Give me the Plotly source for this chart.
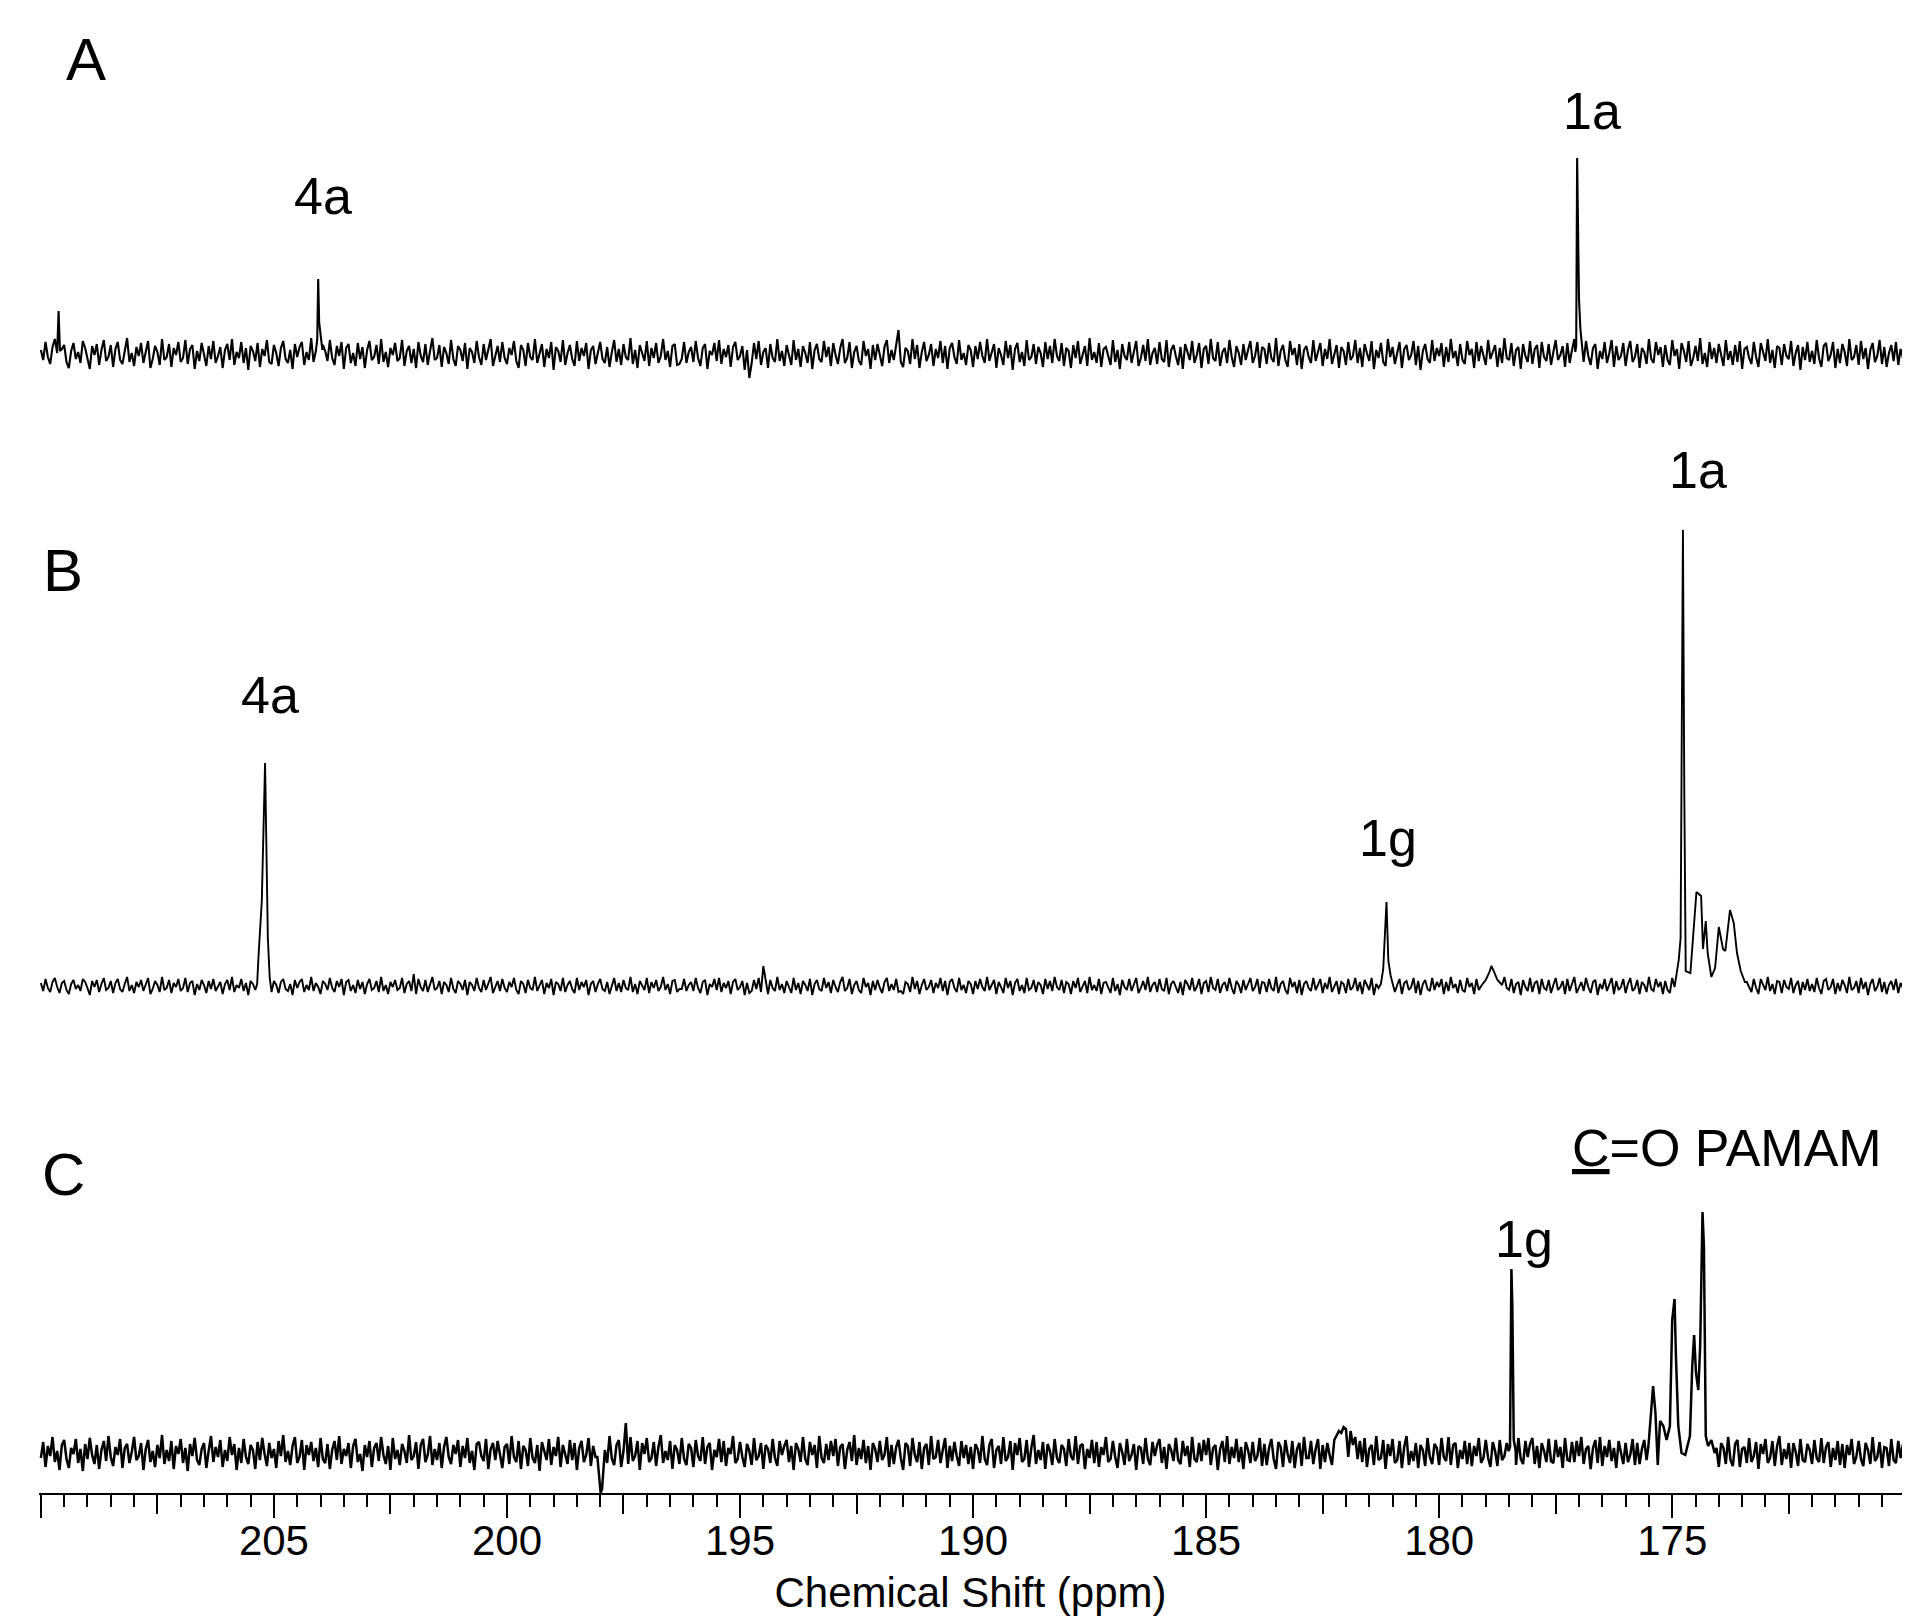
import plotly.graph_objects as go

FONT = "Liberation Sans, Arial, Helvetica, sans-serif"

# ---------------- data ----------------
# baseline of each spectrum, sampled every 0.05 ppm from 210 ppm (intensity in px-like units)
ppm_start = 210.0
ppm_step = 0.05

noise_A = [
    4, -6, 12, -3, -10, 7, 15, -2, -12, 5, 9, -8, -14, 3, 11, -5, 2, -9, 13, 6, -4, -15, 8, -1, 10, -11, 4, 14, -7, -3, 9, -13, 5, 12, -6, -10, 3, 16, -8, 1,
    -12, 7, -2, 11, -9, 4, 13, -14, -5, 8, 2, -11, 15, -6, -3, 10, -13, 6, -1, 12, -8, -4, 14, -10, 5, 9, -15, 3, -7, 11, 1, -12, 8, -5, 13, -9, -2, 7, -14, 4,
    10, -6, 15, -11, 2, -4, 12, -9, 6, -16, 8, 3, -7, 11, -13, 5, -2, 14, -8, -10, 9, 1, -12, 6, 13, -5, -9, 4, -15, 10, -3, 7, 12, -11, 2, -6, 16, -8, 5, -1,
    -13, 9, 3, -7, 14, -4, -11, 8, -2, 12, -15, 6, 10, -9, 1, -12, 11, -5, 7, -14, 4, 13, -6, -3, 9, -10, 15, -8, 2, -13, 6, -1, 11, -7, -4, 14, -12, 3, 8, -9,
    5, -14, 12, -2, -8, 10, -11, 3, 16, -6, -4, 9, -13, 7, 1, -10, 14, -5, -12, 8, 4, -7, 11, -15, 6, 2, -9, 13, -3, -11, 10, -6, 5, 15, -12, -2, 8, -8, 12, -4,
    -10, 6, -1, 13, -7, -14, 9, 4, -12, 11, -3, -6, 15, -9, 2, 10, -13, 5, -4, 12, -16, 7, 3, -8, 14, -11, 1, 9, -5, -12, 13, -7, 6, -2, 11, -15, 4, 8, -10, 3,
    12, -5, -9, 7, -13, 2, 14, -8, 5, -11, 10, -3, -6, 16, -10, 4, -14, 9, 1, -7, 13, -12, 6, -4, 11, -9, -2, 15, -6, 3, -13, 8, 10, -11, -10, -5, 12, -9, 2, 7,
    -8, 13, -4, -12, 6, 10, -15, 3, -1, 11, -7, 14, -10, 5, -3, 9, -13, 7, 12, -6, -2, 8, -16, 4, -24, -9, 11, -5, 13, -11, 2, 6, -14, 10, -4, -8, 15, -7, 3, -12,
    9, -2, -11, 14, -6, 5, -13, 8, 1, -9, 12, -15, 4, 10, -5, -8, 13, -3, 7, -12, 11, -1, -10, 6, 15, -9, -4, 12, -14, 2, 8, -7, -11, 13, -2, 5, -15, 9, -6, 10,
    -3, -12, 7, 14, -9, 4, -6, 11, 24, -8, -13, 6, 3, -10, 15, -5, 9, -14, 2, 12, -7, -1, 10, -12, 5, -4, 13, -9, 8, -15, 6, 11, -3, -10, 14, -6, 1, -11, 9, 4,
    -13, 8, -5, 12, -2, -9, 15, -7, 3, 10, -14, 6, -1, -11, 13, -4, 9, -16, 5, 11, -8, 2, -12, 14, -6, -3, 10, -10, 7, 1, -13, 12, -5, 8, -9, 15, -2, -7, 11, -12,
    6, 3, -14, 9, -4, 13, -10, -1, 8, -12, 16, -6, 2, -9, 11, -13, 5, 7, -3, -11, 14, -8, 4, -15, 10, -2, -6, 12, -9, 3, 13, -12, -4, 9, -7, 15, -11, 1, 6, -10,
    12, -5, -8, 14, -13, 4, 9, -2, -11, 7, -15, 10, 3, -6, 13, -9, -1, 11, -14, 5, 8, -10, 15, -4, -7, 12, -12, 2, 6, -9, 14, -3, -13, 8, 1, -11, 10, -6, 4, 13,
    -9, -2, 12, -14, 7, 5, -10, 11, -4, -8, 16, -12, 3, 9, -6, -13, 13, -1, 6, -11, 10, -15, 4, 8, -3, -9, 14, -7, 2, 11, -12, 5, -5, 15, -10, -1, 9, -14, 7, 3,
    -11, 12, -6, -2, 14, -9, 6, -13, 10, 1, -7, 13, -15, 4, -4, 11, -8, -12, 15, -3, 7, -10, 2, 12, -14, 5, 9, -6, -1, 13, -11, 8, -16, 3, 10, -5, -9, 14, -7, 6,
    -2, 11, -13, 7, -8, 15, -4, 3, -12, 10, -6, -10, 13, -1, 5, -14, 12, -7, 8, -3, -11, 14, -5, 2, 9, -13, 6, -9, 16, -4, -6, 11, -12, 4, 7, -15, 10, -2, -8, 13,
    -10, 5, 9, -14, 12, -3, -7, 10, -11, 2, 14, -6, -1, 8, -13, 11, -9, 4, 15, -12, -4, 7, -8, 13, -2, -11, 6, 10, -15, 3, -5, 12, -9, 1, 14, -13, 8, -6, -2, 11,
    -12, 4, 13, -8, -3, 10, -14, 6, 2, -10, 15, -5, -9, 12, -1, 7, -13, 9, -6, -11, 14, -2, 5, -15, 11, 3, -8, 13, -12, -4, 8, -7, 16, -10, 1, -13, 12, -5, 6, -9,
    10, -1, -12, 14, -6, 3, -11, 9, -8, 13, -15, 5, 7, -4, -10, 12, -3, -13, 11, 2, -7, 15, -9, 4, -14, 8, 6, -11, 10, -2, -5, 13, -12, 1, 9, -16, 7, -6, 12, -8,
    3, -10, 14, -4, -13, 8, 11, -7, -1, 12, -14, 5, -9, 10, 2, -12, 15, -6, -3, 9, -11, 13, -5, 6, -15, 4, 11, -8, -2, 14, -10, 7, -13, 1, 9, -7, 12, -11, 5, -4,
    6,
]

noise_B = [
    3, -5, 7, -2, -6, 4, 8, -1, -7, 3, 5, -4, -8, 2, 6, -3, 1, -5, 7, 4, -2, -9, 5, -1, 6, -6, 2, 8, -4, -2, 5, -7, 3, 7, -3, -6, 2, 9, -5, 1,
    -7, 4, -1, 6, -5, 2, 8, -8, -3, 5, 1, -6, 9, -4, -2, 6, -7, 3, -1, 7, -5, -2, 8, -6, 3, 5, -9, 2, -4, 6, 1, -7, 5, -3, 7, -5, -1, 4, -8, 2,
    6, -4, 9, -6, 1, -2, 7, -5, 3, -9, 5, 2, -4, 6, -8, 3, -1, 8, -5, -6, 5, 1, -7, 4, 7, -3, -5, 2, -9, 6, -2, 4, 7, -6, 1, -4, 9, -5, 3, -1,
    -8, 5, 2, -4, 8, -2, -6, 5, -1, 7, -9, 4, 6, -5, 1, -7, 6, -3, 4, -8, 2, 7, -4, -2, 5, -6, 9, -5, 1, -8, 4, -1, 6, -4, -2, 8, -7, 2, 5, -5,
    12, -8, 7, -1, -5, 6, -6, 2, 9, -4, -2, 5, -8, 4, 1, -6, 8, -3, -7, 5, 2, -4, 6, -9, 4, 1, -5, 8, -2, -6, 6, -4, 3, 9, -7, -1, 5, -5, 7, -2,
    -6, 4, -1, 8, -4, -8, 5, 2, -7, 6, -2, -4, 9, -5, 1, 6, -8, 3, -2, 7, -9, 4, 2, -5, 8, -6, 1, 5, -3, -7, 8, -4, 4, -1, 6, -9, 2, 5, -6, 2,
    7, -3, -5, 4, -8, 1, 8, -5, 3, -6, 6, -2, -4, 9, -6, 2, -8, 5, 1, -4, 8, -7, 4, -2, 6, -5, -1, 9, -4, 2, -8, 5, 6, -6, -3, -3, 7, -5, 1, 4,
    -5, 8, -2, -7, 4, 6, -9, 2, -1, 7, -4, 8, -6, 3, -2, 5, -8, 4, 7, -4, -1, 5, -9, 3, -7, -5, 6, -3, 8, -6, 20, 4, -8, 6, -2, -5, 9, -4, 2, -7,
    5, -1, -7, 8, -4, 3, -8, 5, 1, -5, 7, -9, 2, 6, -3, -5, 8, -2, 4, -7, 6, -1, -6, 4, 9, -5, -2, 7, -8, 1, 5, -4, -7, 8, -1, 3, -9, 5, -4, 6,
    -2, -7, 4, 8, -5, 2, -4, 7, -6, -5, -8, 4, 2, -6, 9, -3, 5, -8, 1, 7, -4, -1, 6, -7, 3, -2, 8, -5, 5, -9, 4, 7, -2, -6, 8, -4, 1, -7, 5, 2,
    -8, 5, -3, 7, -1, -5, 9, -4, 2, 6, -8, 4, -1, -7, 8, -2, 5, -9, 3, 7, -5, 1, -7, 8, -4, -2, 6, -6, 4, 1, -8, 7, -3, 5, -5, 9, -1, -4, 6, -7,
    4, 2, -8, 5, -2, 8, -6, -1, 5, -7, 9, -4, 1, -5, 7, -8, 3, 4, -2, -7, 8, -5, 2, -9, 6, -1, -4, 7, -5, 2, 8, -7, -2, 5, -4, 9, -6, 1, 4, -6,
    7, -3, -5, 8, -8, 2, 5, -1, -7, 4, -9, 6, 2, -4, 8, -5, -1, 7, -8, 3, 5, -6, 9, -2, -4, 7, -7, 1, 4, -5, 8, -2, -8, 5, 1, -7, 6, -4, 2, 8,
    -5, -1, 7, -8, 4, 3, -6, 7, -2, -5, 9, -7, 2, 5, -4, -8, 8, -1, 4, -7, 6, -9, 2, 5, -2, -5, 8, -4, 1, 7, -7, 3, -3, 9, -6, -1, 5, -8, 4, 2,
    -7, 7, -4, -1, 8, -5, 4, -8, 6, 1, -4, 8, -9, 2, -2, 7, -5, -7, 9, -2, 4, -6, 1, 7, -8, 3, 5, -4, -1, 8, -7, 5, -9, 2, 6, -3, -5, 8, -4, 4,
    -1, 7, -8, 4, -5, 9, -2, 2, -7, 6, -4, -6, 8, -1, 3, -8, 7, -4, 5, -2, -7, 8, -3, 1, 5, -8, 4, -5, 9, -2, -4, 7, -7, 2, 4, -9, 6, -1, -5, 8,
    -6, 3, 5, -8, 7, -2, -4, 6, -7, 1, 8, -4, -1, 5, -8, 7, -5, 2, 9, -7, -2, 4, -5, 8, -1, -7, 4, 6, -9, 2, -3, 7, -5, 1, 8, -8, 5, -4, -1, 7,
    -7, 2, 8, -5, -2, 6, -8, 4, 1, -6, 9, -3, -5, 7, -1, 4, -8, 5, -4, -7, 8, -1, 3, -9, 7, 2, -5, 8, -7, -2, 5, -4, 9, -6, 1, -8, 7, -3, 4, -5,
    6, -1, -7, 8, -4, 2, -7, 5, -5, 8, -9, 3, 4, -2, -6, 7, -2, -8, 7, 1, -4, 9, -5, 2, -8, 5, 4, -7, 6, -1, -3, 8, -7, 1, 5, -9, 4, -4, 7, -5,
    2, -6, 8, -2, -8, 5, 7, -4, -1, 7, -8, 3, -5, 6, 1, -7, 9, -4, -2, 5, -7, 8, -3, 4, -9, 2, 7, -5, -1, 8, -6, 4, -8, 1, 5, -4, 7, -7, 3, -2,
    4,
]

noise_C = [
    -5, 11, -14, 7, -3, 16, -9, 2, -17, 8, 13, -6, -15, 5, -1, 14, -10, 4, -18, 9, -6, 15, -2, -11, 8, -16, 3, 12, -8, 17, -4, -13, 6, -2, 14, -15, 5, 9, -10, 1,
    16, -7, -3, 10, -17, 4, 13, -9, 2, -14, 8, -5, 18, -11, 3, -8, 12, -16, 7, -1, 14, -10, 5, -18, 9, -3, 15, -7, -12, 4, 10, -15, 2, 17, -9, 6, -4, 13, -14, 3,
    -8, 16, -2, 9, -17, 5, -10, 14, -4, -11, 8, 3, -16, 11, -7, 15, -1, -13, 10, -5, 4, -15, 12, -3, 18, -9, 2, -12, 7, 16, -10, -4, 13, -17, 8, -2, 11, -8, 5, -14,
    15, -6, -10, 9, -16, 3, 12, -7, 17, -11, 4, -3, 10, -15, 7, 14, -9, -1, -18, 8, -4, 12, -14, 5, 10, -8, 16, -2, -11, 7, -17, 15, -6, 3, -12, 9, 2, -10, 18, -7,
    -3, 11, -16, 8, 14, -9, -2, 17, -12, 4, -7, 10, -15, 6, 16, -4, -11, 8, -1, 13, -14, 7, -5, 15, -10, 2, -17, 9, 11, -3, -8, 14, -16, 4, 10, -7, 12, -2, -15, 6,
    9, -11, 17, -4, -9, 12, -16, 7, 3, -13, 15, -5, -10, 8, -18, 11, 2, -7, 14, -12, 6, -3, 16, -14, 8, -1, -11, 13, -7, 10, -17, 5, 12, -9, -2, 15, -13, 7, -4, 11,
    -15, 9, 3, -10, 17, -6, -12, 8, 13, -14, 2, 30, -11, 16, -8, -3, 12, -17, 10, -1, 15, -9, -5, 11, -13, 6, 18, -10, 2, -7, 12, -16, 8, 3, -11, 15, -6, -12, 9, 5,
    -14, 13, -3, -8, 16, -11, 6, 10, -17, 3, -4, 14, -9, 12, -13, 5, -1, 17, -10, -6, 11, -4, -14, 9, 2, -12, 15, -7, -3, 10, -16, 8, 4, -10, 14, -5, -13, 12, -2, 7,
    13, -9, 7, -17, 10, 4, -9, 16, -6, -12, 11, -2, 8, -15, 17, -5, -10, 9, -7, 12, -3, 14, -13, 6, 9, -16, 3, 11, -8, 18, -12, 5, -6, 13, -10, 7, -17, 10, 4, -9,
    12, -7, -2, 16, -14, 8, -11, 6, 13, -5, -17, 10, 7, -13, 15, -2, -9, 11, -16, 5, 9, -12, 17, -6, -4, 13, -10, 3, 15, -15, 7, -8, 11, -3, -13, 12, -5, 8, -11, 6,
    -16, 9, 4, -10, 17, -6, -12, 8, 14, -15, 3, 7, -11, 16, -8, -4, 12, -17, 10, -2, 15, -9, -6, 13, -14, 5, 18, -11, 3, -7, 11, -16, 9, 2, -12, 14, -5, -10, 8, 4,
    -13, 14, -3, -7, 17, -11, 7, 9, -16, 4, -5, 13, -10, 11, -14, 6, -2, 16, -9, -6, 12, -4, -15, 10, 1, -12, 14, -8, -2, 9, -17, 7, 5, -11, 15, -6, -12, 11, -3, 8,
    14, -10, 6, -16, 9, 3, -8, 15, -7, -11, 12, -3, 7, -14, 16, -6, -9, 10, -8, 13, -2, 15, -12, 5, 8, -17, 4, 12, -9, 17, -11, 6, -5, 14, -9, 6, -16, 11, 3, -10,
    11, -8, -3, 15, -13, 9, -12, 5, 14, -6, -16, 11, 6, -14, 13, -1, -10, 12, -15, 4, 10, -13, 16, -5, -5, 12, -11, 4, 14, -16, 8, -9, 10, -2, -12, 13, 18, 22, 20, 26,
    24, -4, 22, 8, 16, -6, 12, -9, 15, -14, 4, 8, -12, 17, -7, -5, 13, -16, 9, -3, 14, -10, -7, 12, -15, 6, 17, -12, 2, -8, 10, -15, 8, 3, -13, 15, -4, -11, 9, 5,
    -12, 15, -4, -8, 16, -12, 8, 10, -15, 3, -6, 12, -11, 10, -13, 7, -3, 15, -10, -5, 13, -5, -14, 11, 2, -13, 13, -7, -3, 10, -16, 6, 4, -12, 15, -6, -11, 12, -4, 9,
    15, -11, 7, -15, 10, 2, -9, 14, -8, -10, 13, -4, 6, -15, 15, -7, -8, 11, -9, 12, -3, 16, -11, 4, 7, -16, 5, 13, -10, 16, -13, 7, -4, 13, -8, 5, -15, 12, 2, -11,
    10, -9, -2, 14, -12, 10, -11, 4, 13, -7, -15, 12, 5, -13, 14, -2, -9, 13, -14, 3, 11, -12, 15, -4, -6, 11, -10, 5, 13, -15, 9, -8, 11, -1, -11, 14, -6, 7, -10, 5,
    -14, 10, 5, -11, 16, -7, -13, 9, 13, -14, 4, 6, -10, 15, -9, -3, 11, -16, 9, -1, 14, -10, -5, 12, -13, 7, 17, -12, 4, -6, 10, -15, 10, 1, -13, 14, -7, -9, 9, 3,
    -11, 13, -5, -9, 15, -10, 6, 11, -14, 5, -7, 12, -12, 9, -15, 8, -2, 14, -11, -4, 12, -6, -13, 10, 3, -11, 16, -8, -4, 11, -15, 6, 5, -13, 14, -7, -10, 12, -5, 9,
    -3,
]

# resonances (ppm, intensity)
A_spike_ppm = [209.65, 209.62, 209.59]
A_spike_int = [1, 43, 3]
A_4a_ppm = [204.10, 204.07, 204.05, 204.03, 204.00, 203.96]
A_4a_int = [3, 15, 75, 32, 20, 4]
A_1a_ppm = [177.08, 177.06, 177.04, 177.02, 177.00, 176.97, 176.93]
A_1a_int = [2, 8, 196, 82, 55, 25, 5]

B_4a_ppm = [205.36, 205.33, 205.26, 205.19, 205.13, 205.09]
B_4a_int = [2, 30, 85, 223, 48, 8]
B_1g_ppm = [181.25, 181.20, 181.13, 181.09, 181.04, 180.99]
B_1g_int = [2, 17, 84, 25, 10, 2]
B_bump_ppm = [179.10, 179.00, 178.92, 178.88, 178.83, 178.75, 178.65]
B_bump_int = [0, 6, 14, 20, 15, 6, 1]
B_1a_ppm = [174.94, 174.91, 174.86, 174.82, 174.77, 174.74, 174.71, 174.61, 174.56,
            174.48, 174.38, 174.34, 174.28, 174.24, 174.16, 174.08, 174.00, 173.91,
            173.86, 173.76, 173.68, 173.61, 173.53, 173.44]
B_1a_int = [2, 7, 26, 48, 456, 190, 15, 13, 46, 94, 90, 37, 65, 33, 9, 18, 59, 37,
            35, 76, 63, 33, 15, 4]

C_dip_ppm = [198.06, 198.02, 197.99, 197.96, 197.92]
C_dip_int = [-4, -30, -40, -36, -3]
C_1g_ppm = [178.51, 178.48, 178.45, 178.43, 178.40, 178.36]
C_1g_int = [2, 6, 184, 147, 13, 3]
C_pamam_ppm = [175.51, 175.45, 175.41, 175.36, 175.31, 175.26, 175.19, 175.12, 175.05,
               175.00, 174.95, 174.92, 174.87, 174.80, 174.72, 174.62, 174.57, 174.53,
               174.49, 174.44, 174.40, 174.35, 174.32, 174.28, 174.23, 174.16, 174.09]
C_pamam_int = [7, 47, 67, 40, -12, 32, 27, 13, 27, 133, 154, 97, 27, 0, -2, 17, 87, 118,
               80, 63, 107, 241, 207, 17, 7, 13, 0]

# axis ticks
label_ticks = [210, 205, 200, 195, 190, 185, 180, 175]
label_text = ["", "205", "200", "195", "190", "185", "180", "175"]


def build(noise, peaks):
    pts = [(ppm_start - i * ppm_step, v) for i, v in enumerate(noise)]
    for ppm, inten in peaks:
        lo, hi = min(ppm), max(ppm)
        pts = [p for p in pts if not (lo - 1e-9 <= p[0] <= hi + 1e-9)]
        pts.extend(zip(ppm, inten))
    pts.sort(key=lambda p: -p[0])
    return [p[0] for p in pts], [p[1] for p in pts]


xA, yA = build(noise_A, [(A_spike_ppm, A_spike_int), (A_4a_ppm, A_4a_int),
                         (A_1a_ppm, A_1a_int)])
xB, yB = build(noise_B, [(B_4a_ppm, B_4a_int), (B_1g_ppm, B_1g_int),
                         (B_bump_ppm, B_bump_int), (B_1a_ppm, B_1a_int)])
xC, yC = build(noise_C, [(C_dip_ppm, C_dip_int), (C_1g_ppm, C_1g_int),
                         (C_pamam_ppm, C_pamam_int)])

fig = go.Figure()
fig.add_trace(go.Scatter(x=xA, y=yA, mode="lines", line=dict(color="black", width=2.1),
                         xaxis="x", yaxis="y", hoverinfo="skip"))
fig.add_trace(go.Scatter(x=xB, y=yB, mode="lines", line=dict(color="black", width=1.9),
                         xaxis="x", yaxis="y2", hoverinfo="skip"))
fig.add_trace(go.Scatter(x=xC, y=yC, mode="lines", line=dict(color="black", width=2.5),
                         xaxis="x", yaxis="y3", hoverinfo="skip"))
# carrier for the secondary tick axis (long ticks)
fig.add_trace(go.Scatter(x=[], y=[], xaxis="x2", yaxis="y", showlegend=False))

PLOT_H = 1485  # plot-area height in px (axis line at its bottom)
base_A, base_B, base_C = 346, 978, 1445  # baseline rows in px from top
XR = [210.04, 170.07]

fig.update_layout(
    width=1915, height=1624,
    margin=dict(l=31, r=21, t=0, b=1624 - PLOT_H),
    paper_bgcolor="white", plot_bgcolor="white",
    showlegend=False,
    font=dict(family=FONT, color="black"),
    xaxis=dict(
        range=XR,
        tickmode="array", tickvals=label_ticks, ticktext=label_text,
        ticks="outside", ticklen=10, tickwidth=2, tickcolor="black",
        minor=dict(tickmode="linear", tick0=170, dtick=0.5, ticks="outside",
                   ticklen=12, tickwidth=2, tickcolor="black"),
        showline=True, linewidth=2, linecolor="black",
        showgrid=False, zeroline=False,
        tickfont=dict(size=42, family=FONT, color="black"),
        title=dict(text="Chemical Shift (ppm)", font=dict(size=42, family=FONT),
                   standoff=14),
    ),
    xaxis2=dict(
        range=XR, overlaying="x", anchor="y", side="bottom",
        tickmode="linear", tick0=175, dtick=5,
        ticks="outside", ticklen=24, tickwidth=2, tickcolor="black",
        minor=dict(tickmode="linear", tick0=172.5, dtick=5, ticks="outside",
                   ticklen=20, tickwidth=2, tickcolor="black"),
        showticklabels=False, showline=False, showgrid=False, zeroline=False,
    ),
    yaxis=dict(domain=[0, 1], range=[base_A - PLOT_H, base_A], visible=False),
    yaxis2=dict(overlaying="y", range=[base_B - PLOT_H, base_B], visible=False),
    yaxis3=dict(overlaying="y", range=[base_C - PLOT_H, base_C], visible=False),
)

labels = [
    ("A", 209.03, "y", 295, 60),
    ("4a", 203.94, "y", 158, 52),
    ("1a", 176.73, "y", 243, 52),
    ("B", 209.52, "y2", 416, 60),
    ("4a", 205.09, "y2", 291, 52),
    ("1g", 181.10, "y2", 148, 52),
    ("1a", 174.45, "y2", 516, 52),
    ("C", 209.52, "y3", 279, 60),
    ("1g", 178.19, "y3", 214, 52),
    ("<u>C</u>=O PAMAM", 173.83, "y3", 305, 52),
]
for text, x, yref, y, size in labels:
    fig.add_annotation(text=text, x=x, y=y, xref="x", yref=yref, showarrow=False,
                       xanchor="center", yanchor="middle",
                       font=dict(size=size, family=FONT, color="black"))

fig.write_html("out.html")
